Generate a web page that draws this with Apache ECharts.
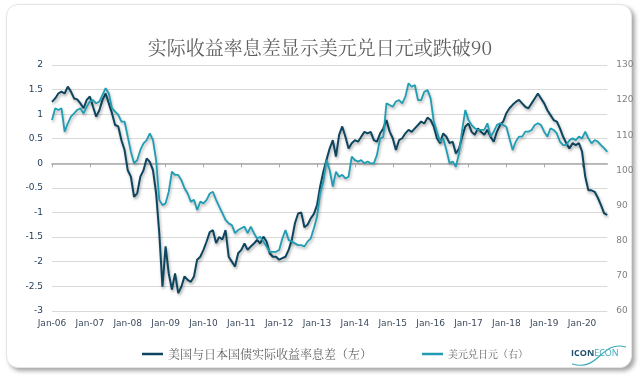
<!DOCTYPE html>
<html>
<head>
<meta charset="utf-8">
<script src="https://cdn.jsdelivr.net/npm/echarts@6/dist/echarts.min.js"></script>
<style>
  html, body { margin: 0; padding: 0; background: #ffffff; }
  #card { position: absolute; left: 6px; top: 4px; width: 624px; height: 362px;
          border: 1px solid #e4e4e4; border-radius: 12px; background: #fff;
          box-shadow: 3px 3px 4px rgba(0,0,0,0.35); }
  #chart { position: absolute; left: 0; top: 0; width: 640px; height: 380px; }
</style>
</head>
<body>
<div id="card"></div>
<div id="chart"></div>
<script>
// ---- data (monthly, Jan 2006 .. Sep 2020) ----
const startYear = 2006;
const endYear = 2020, endMonth = 9;
const months = [];
for (let y = startYear; y <= endYear; y++) {
  for (let m = 1; m <= 12; m++) {
    if (y === endYear && m > endMonth) break;
    months.push(y + '-' + (m < 10 ? '0' + m : m));
  }
}

// US - Japan real yield spread (left axis)
const spread = [
  1.25,1.32,1.42,1.46,1.42,1.56,1.46,1.32,1.30,1.22,1.12,1.29,
  1.36,1.15,0.95,1.08,1.29,1.42,1.22,1.02,0.78,0.75,0.47,0.27,
  -0.14,-0.27,-0.68,-0.61,-0.27,-0.14,0.10,0.03,-0.14,-0.61,-1.42,-2.51,
  -1.69,-2.24,-2.57,-2.24,-2.64,-2.51,-2.30,-2.37,-2.41,-2.30,-1.96,-1.90,
  -1.76,-1.59,-1.40,-1.36,-1.62,-1.50,-1.55,-1.36,-1.90,-2.00,-2.10,-1.83,
  -1.76,-1.63,-1.76,-1.69,-1.63,-1.56,-1.63,-1.49,-1.59,-1.83,-1.90,-1.90,
  -1.96,-1.93,-1.90,-1.76,-1.56,-1.22,-1.02,-1.00,-1.30,-1.25,-1.12,-1.03,
  -0.85,-0.47,-0.17,0.07,0.30,0.47,0.14,0.58,0.75,0.54,0.30,0.41,
  0.47,0.44,0.54,0.64,0.61,0.64,0.47,0.44,0.61,0.71,0.88,0.65,
  0.51,0.27,0.47,0.51,0.61,0.68,0.64,0.71,0.78,0.85,0.81,0.93,
  0.88,0.75,0.51,0.41,0.61,0.54,0.41,0.44,0.20,0.30,0.54,0.75,
  0.81,0.64,0.58,0.71,0.64,0.58,0.68,0.54,0.44,0.64,0.78,0.85,
  1.02,1.12,1.19,1.25,1.29,1.22,1.15,1.12,1.22,1.32,1.42,1.32,
  1.22,1.08,0.98,0.88,0.85,0.71,0.54,0.41,0.30,0.41,0.37,0.41,
  0.24,-0.27,-0.55,-0.55,-0.58,-0.70,-0.85,-1.02,-1.05
];

// USD/JPY (right axis)
const usdjpy = [
  114.3,117.7,117.2,117.7,111.0,113.4,115.3,116.2,117.2,117.7,116.2,118.1,
  119.6,120.0,119.1,119.6,121.5,123.4,121.9,117.7,116.7,115.8,113.9,113.9,
  109.6,105.3,102.0,102.9,105.8,107.7,108.6,110.5,108.6,102.9,91.6,90.1,
  90.6,93.9,99.6,98.7,98.7,97.2,94.9,93.4,91.1,91.6,88.7,91.1,
  90.6,91.6,93.4,93.9,91.6,89.7,87.8,85.9,84.9,84.4,82.1,83.0,
  83.5,84.0,82.1,84.0,82.1,80.6,81.1,79.7,78.3,76.8,76.8,76.8,
  77.3,80.6,83.0,80.2,79.7,79.2,78.7,78.7,78.3,79.7,80.6,83.5,
  86.8,93.5,96.8,103.0,100.1,95.4,99.6,98.2,98.7,97.7,98.2,103.9,
  102.9,102.5,102.9,102.0,102.5,102.0,102.0,104.4,109.1,109.5,119.1,118.6,
  118.1,119.6,120.0,119.1,121.0,124.8,123.8,124.3,120.0,120.0,122.4,122.9,
  120.5,113.9,111.0,108.2,109.1,105.8,102.0,102.5,101.0,104.8,111.5,117.2,
  114.3,112.9,112.0,111.5,111.5,111.5,113.4,109.6,111.0,112.9,113.4,112.9,
  112.4,109.1,105.8,108.2,109.6,109.6,111.0,111.0,111.5,112.9,113.4,112.9,
  111.0,109.6,112.0,111.5,110.5,108.2,107.2,107.2,108.6,109.1,108.6,109.6,
  109.1,111.0,109.1,107.7,108.6,108.2,107.2,106.3,105.3
];

const titleText = '实际收益率息差显示美元兑日元或跌破90';
const seriesNames = ['美国与日本国债实际收益率息差（左）', '美元兑日元（右）'];
const leftTicks = { min: -3, max: 2, step: 0.5 };
const rightTicks = { min: 60, max: 130, step: 10 };

const navy = '#0e4660';
const teal = '#1f9db3';
const axisFont = "Tahoma, 'DejaVu Sans', sans-serif";
const cjkFont = "'Noto Serif CJK SC', 'Noto Sans CJK SC', sans-serif";

const isJan = (i, v) => String(v).slice(5) === '01';

const chart = echarts.init(document.getElementById('chart'), null, { renderer: 'canvas' });
chart.setOption({
  backgroundColor: 'transparent',
  animation: false,
  title: {
    text: titleText, left: 'center', top: 33,
    textStyle: { fontFamily: cjkFont, fontSize: 19, fontWeight: 'normal', color: '#5f5f5f' }
  },
  legend: {
    left: 137, top: 343, itemGap: 50, itemWidth: 21, itemHeight: 2.5, icon: 'rect',
    textStyle: { fontFamily: cjkFont, color: '#5f5f5f', fontSize: 12 },
    data: [
      { name: seriesNames[0], textStyle: { fontSize: 12 } },
      { name: seriesNames[1], textStyle: { fontSize: 10 } }
    ]
  },
  grid: { left: 52, right: 32.7, top: 65, bottom: 69.2, containLabel: false },
  xAxis: [
    {
      type: 'category', data: months, boundaryGap: false, position: 'bottom',
      axisLine: { show: false, onZero: false }, axisTick: { show: false },
      splitLine: { show: false },
      axisLabel: {
        interval: isJan, margin: 8, fontFamily: axisFont, fontSize: 9, color: '#3d4b5c',
        formatter: v => 'Jan-' + v.slice(2, 4)
      }
    },
    {
      type: 'category', data: months, boundaryGap: false, position: 'bottom',
      axisLine: { show: true, onZero: true, lineStyle: { color: '#a9a9a9', width: 1.5 } },
      axisTick: { show: true, interval: isJan, length: 4, lineStyle: { color: '#a9a9a9' } },
      axisLabel: { show: false }, splitLine: { show: false }
    }
  ],
  yAxis: [
    {
      type: 'value', position: 'left', min: leftTicks.min, max: leftTicks.max, interval: leftTicks.step,
      axisLine: { show: false }, axisTick: { show: false },
      splitLine: { show: true, lineStyle: { color: '#d9d9d9', width: 1 } },
      axisLabel: { margin: 9, fontFamily: axisFont, fontSize: 9, color: '#25405e' }
    },
    {
      type: 'value', position: 'right', min: rightTicks.min, max: rightTicks.max, interval: rightTicks.step,
      axisLine: { show: false }, axisTick: { show: false }, splitLine: { show: false },
      axisLabel: { margin: 9, fontFamily: axisFont, fontSize: 9, color: '#808080' }
    }
  ],
  series: [
    {
      name: seriesNames[0], type: 'line', xAxisIndex: 0, yAxisIndex: 0, data: spread,
      showSymbol: false, symbol: 'none', color: navy,
      lineStyle: { color: navy, width: 2, shadowColor: 'rgba(0,0,0,0.35)', shadowBlur: 3, shadowOffsetX: 1, shadowOffsetY: 2 }
    },
    {
      name: seriesNames[1], type: 'line', xAxisIndex: 0, yAxisIndex: 1, data: usdjpy,
      showSymbol: false, symbol: 'none', color: teal,
      lineStyle: { color: teal, width: 1.8, shadowColor: 'rgba(0,0,0,0.3)', shadowBlur: 3, shadowOffsetX: 1, shadowOffsetY: 2 }
    }
  ],
  graphic: [
    {
      type: 'text', left: 571, top: 349,
      style: {
        text: '{a|ICON}{b|ECON}',
        rich: {
          a: { fontFamily: "'Open Sans', sans-serif", fontWeight: 'bold', fontSize: 9, fill: '#1d4e6a' },
          b: { fontFamily: "'Open Sans', sans-serif", fontSize: 9, fill: '#3aa8bb' }
        }
      }
    },
    {
      type: 'bezierCurve', silent: true,
      shape: { x1: 572, y1: 364, x2: 626, y2: 347, cpx1: 600, cpy1: 372, cpx2: 600, cpy2: 340 },
      style: { stroke: '#3aa8bb', lineWidth: 1.2, fill: null }
    }
  ]
});
</script>
</body>
</html>
